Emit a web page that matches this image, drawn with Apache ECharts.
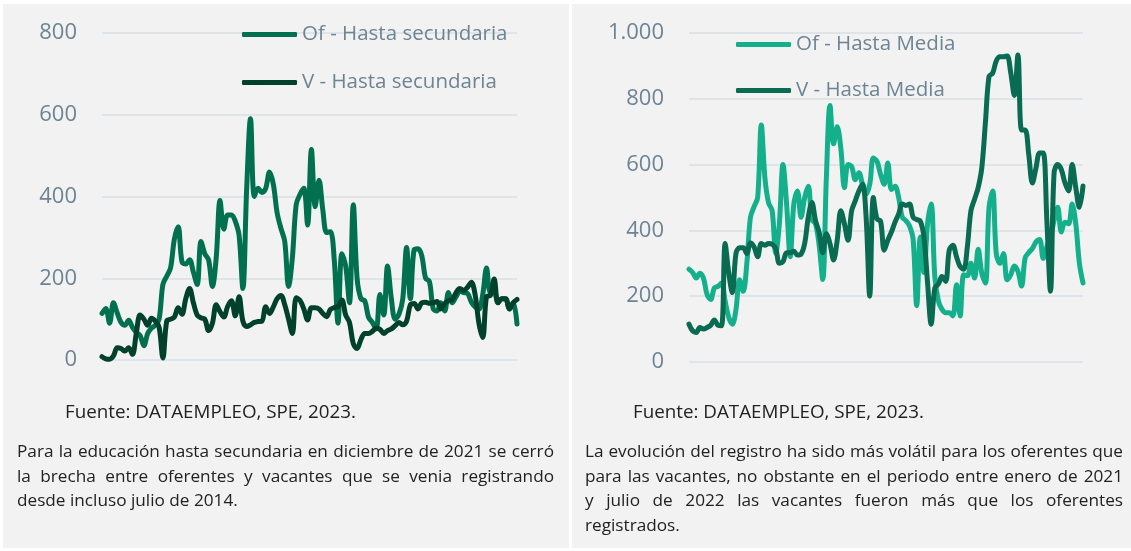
<!DOCTYPE html>
<html lang="es">
<head>
<meta charset="utf-8">
<title>Oferentes y vacantes por nivel educativo</title>
<script src="https://cdn.jsdelivr.net/npm/echarts@6/dist/echarts.min.js"></script>
<style>
  html, body { margin: 0; padding: 0; background: #ffffff; }
  body { width: 1131px; height: 551px; position: relative; overflow: hidden;
         font-family: "Open Sans", Lato, "Noto Sans", sans-serif; }
  .cell { position: absolute; background: #f2f2f2; top: 4px; height: 544px; }
  #cellL { left: 3px; width: 566px; }
  #cellR { left: 572px; width: 559px; }
  #chart { position: absolute; left: 0; top: 0; width: 1131px; height: 551px; }
  .src { position: absolute; top: 400px; font-size: 18.8px; line-height: 22px; color: #222; white-space: nowrap; }
  .txt { position: absolute; top: 439px; font-size: 17.2px; line-height: 24.5px; color: #222; }
  .txt .ln { text-align: justify; text-align-last: justify; }
  .txt .ln.end { text-align: left; text-align-last: left; }
</style>
</head>
<body>
<div class="cell" id="cellL"></div>
<div class="cell" id="cellR"></div>
<div id="chart"></div>
<div class="src" style="left:65px">Fuente: DATAEMPLEO, SPE, 2023.</div>
<div class="src" style="left:633px">Fuente: DATAEMPLEO, SPE, 2023.</div>
<div class="txt" style="left:17px;width:537px">
  <div class="ln">Para la educación hasta secundaria en diciembre de 2021 se cerró</div>
  <div class="ln">la brecha entre oferentes y vacantes que se venia registrando</div>
  <div class="ln end">desde incluso julio de 2014.</div>
</div>
<div class="txt" style="left:585px;width:538px">
  <div class="ln">La evolución del registro ha sido más volátil para los oferentes que</div>
  <div class="ln">para las vacantes, no obstante en el periodo entre enero de 2021</div>
  <div class="ln">y julio de 2022 las vacantes fueron más que los oferentes</div>
  <div class="ln end">registrados.</div>
</div>
<script>
// Monthly series, January 2014 onwards
const months = [];
for (let y = 2014; months.length < 110; y++) {
  for (let m = 1; m <= 12 && months.length < 110; m++) months.push(y + '-' + String(m).padStart(2, '0'));
}

// Oferentes / vacantes registrados, hasta secundaria
const ofSecundaria = [
  114,126,90,140,115,92,85,97,80,68, 60,35,65,78,85,100,185,205,225,295,
  326,240,235,245,215,185,290,260,245,180, 250,390,320,355,355,340,305,175,420,590,
  400,420,410,420,460,430,360,322,290,180, 250,380,405,420,330,515,375,440,367,312,
  314,245,90,260,230,140,380,200,150,145, 105,92,76,160,110,230,150,100,112,150,
  275,150,270,272,255,200,192,125,120,140, 120,165,140,155,168,165,163,142,130,125,
  160,225,165,167,140,150,150,125,140,88
];
const vSecundaria = [
  8,3,2,10,30,28,22,30,14,65, 110,100,85,102,95,80,5,95,100,105,
  128,112,150,175,140,110,103,100,72,90, 135,118,105,131,145,108,155,95,82,86,
  92,94,95,130,114,130,150,158,135,100, 65,152,146,125,98,128,128,125,114,106,
  124,128,131,147,110,92,40,28,50,65, 65,70,78,75,65,72,76,84,92,86,
  95,135,138,125,140,141,139,140,143,125, 138,145,148,165,175,170,178,190,160,90,
  55,155,158,198,140,150,150,125,140,148
];

// Oferentes / vacantes registrados, hasta media
const ofMedia = [
  282,272,255,270,255,205,190,225,230,240, 185,135,115,160,250,215,300,440,472,500,
  720,560,484,460,330,420,600,480,320,480, 520,440,500,534,433,420,355,251,560,780,
  663,715,650,530,600,594,554,575,540,510, 540,620,610,570,540,605,524,534,500,440,
  430,414,373,171,380,272,420,480,260,185, 160,150,150,140,235,140,265,262,300,255,
  343,270,240,470,520,330,300,330,250,265, 292,275,231,317,333,345,365,372,315,350,
  380,430,470,395,425,420,480,420,300,240
];
const vMedia = [
  115,95,90,105,100,105,112,128,112,110, 360,270,211,330,347,347,330,362,350,320,
  360,355,360,358,345,300,305,332,332,337, 325,328,360,440,485,430,394,332,390,360,
  310,370,460,420,370,460,490,520,540,440, 200,500,435,428,340,370,395,425,450,480,
  476,480,440,433,428,380,240,115,225,237, 260,245,340,355,320,290,282,350,460,495,
  530,590,727,868,878,915,928,928,930,880, 810,933,705,705,630,544,590,635,635,430,
  215,575,600,585,545,520,600,530,470,535
];

const leftTicks = [0, 200, 400, 600, 800];
const rightTicks = [0, 200, 400, 600, 800, 1000];

const labelColor = '#6d8494';
const gridColor = '#d9dfe4';
const font = '"Open Sans", Lato, sans-serif';

function fmtThousands(v) {
  return String(v).replace(/\B(?=(\d{3})+(?!\d))/g, '.');
}

function yAxis(idx, ticks) {
  return {
    type: 'value', gridIndex: idx,
    min: ticks[0], max: ticks[ticks.length - 1], interval: ticks[1] - ticks[0],
    axisLine: { show: false }, axisTick: { show: false },
    axisLabel: { color: labelColor, fontSize: 22, fontFamily: font, margin: 25,
                 formatter: fmtThousands },
    splitLine: { lineStyle: { color: gridColor, width: 1.5 } }
  };
}

function xAxis(idx) {
  return {
    type: 'category', gridIndex: idx, data: months, boundaryGap: false,
    axisLine: { show: false }, axisTick: { show: false }, axisLabel: { show: false },
    splitLine: { show: false }
  };
}

function line(name, data, idx, color) {
  return {
    name, type: 'line', data, xAxisIndex: idx, yAxisIndex: idx,
    symbol: 'none', smooth: 0.35, animation: false,
    lineStyle: { color, width: 5, cap: 'round', join: 'round' },
    itemStyle: { color }
  };
}

function legend(name, left, top) {
  return {
    data: [name], left, top, padding: 0, icon: 'roundRect', itemWidth: 55, itemHeight: 5,
    itemGap: 0, selectedMode: false,
    textStyle: { color: labelColor, fontSize: 20.5, fontFamily: font }
  };
}

const chart = echarts.init(document.getElementById('chart'), null, { renderer: 'canvas' });
chart.setOption({
  backgroundColor: 'transparent',
  animation: false,
  grid: [
    { left: 102, top: 33, width: 415, height: 327 },
    { left: 689, top: 33, width: 394, height: 329 }
  ],
  xAxis: [xAxis(0), xAxis(1)],
  yAxis: [yAxis(0, leftTicks), yAxis(1, rightTicks)],
  legend: [
    legend('Of - Hasta secundaria', 242, 24),
    legend('V - Hasta secundaria', 242, 72),
    legend('Of - Hasta Media', 736, 34),
    legend('V - Hasta Media', 736, 80)
  ],
  series: [
    line('Of - Hasta secundaria', ofSecundaria, 0, '#00704f'),
    line('V - Hasta secundaria', vSecundaria, 0, '#00412c'),
    line('Of - Hasta Media', ofMedia, 1, '#13b08b'),
    line('V - Hasta Media', vMedia, 1, '#096b52')
  ]
});
</script>
</body>
</html>
